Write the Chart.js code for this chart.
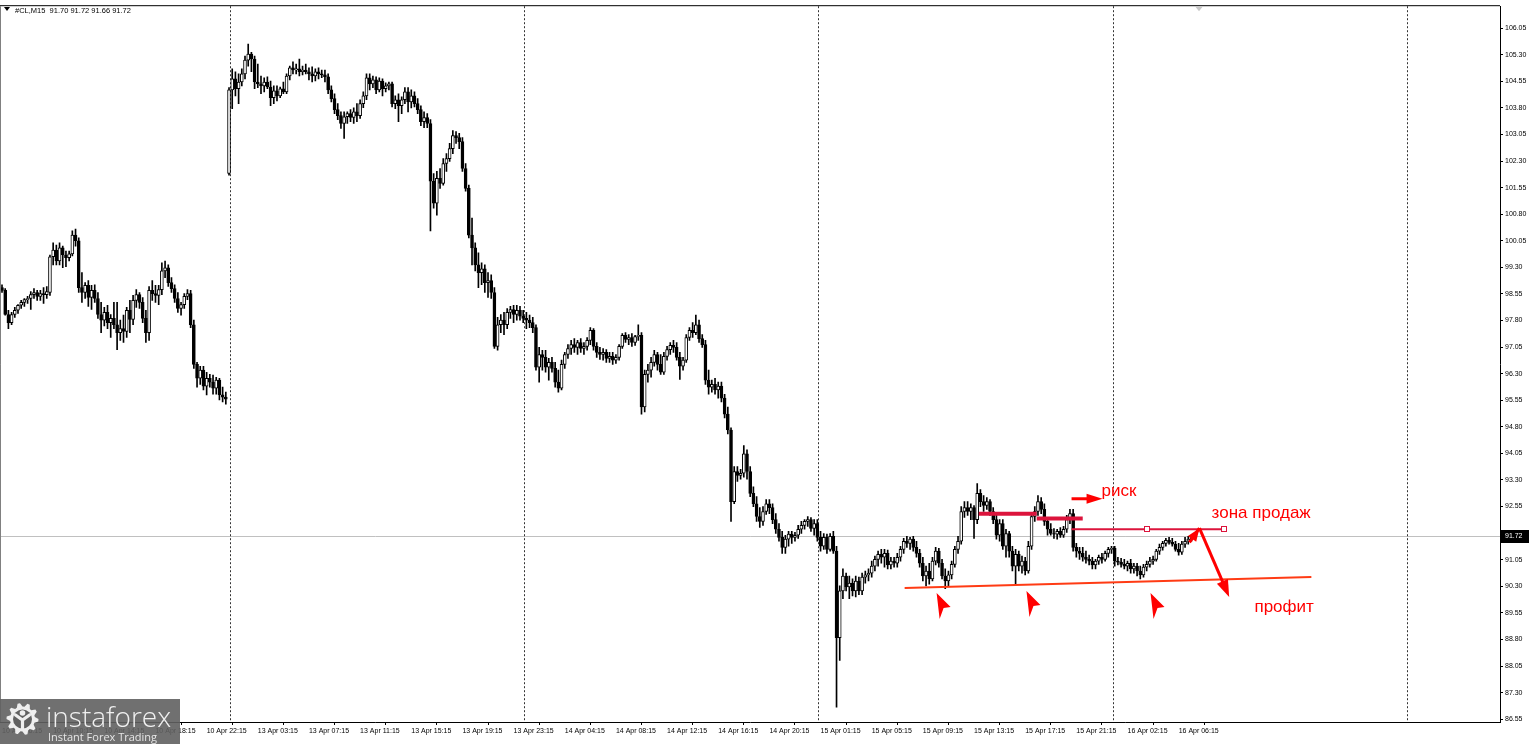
<!DOCTYPE html>
<html lang="ru">
<head>
    <meta charset="UTF-8">
    <title>#CL,M15</title>
    <style>
        html, body { margin: 0; padding: 0; background: #ffffff; }
        #wrap { width: 1529px; height: 744px; }
    </style>
    <script src="https://cdn.jsdelivr.net/npm/chart.js@4.4.0/dist/chart.umd.min.js"></script>
</head>
<body>
<div id="wrap"><canvas id="chart" width="1529" height="744"></canvas></div>
<script>
// M15 candles, bar 0 = 10 Apr 06:15
const opens = [
    98.73, 98.65, 97.97, 97.74, 97.97, 98.09, 98.23, 98.31, 98.39, 98.42,
    98.53, 98.59, 98.48, 98.56, 98.53, 98.59, 99.60, 99.79, 99.48, 99.85,
    99.65, 99.57, 99.68, 100.21, 100.05, 98.73, 98.59, 98.79, 98.45, 98.65,
    98.42, 97.97, 97.81, 98.03, 97.74, 97.86, 97.68, 97.46, 97.57, 97.49,
    98.09, 97.83, 98.37, 98.53, 98.31, 97.86, 97.46, 98.65, 98.56, 98.51,
    98.67, 99.20, 99.29, 98.87, 98.70, 98.42, 98.14, 98.25, 98.48, 98.56,
    97.68, 96.56, 96.17, 96.40, 95.95, 96.17, 96.06, 95.89, 96.12, 95.70,
    95.64, 101.95, 104.31, 104.62, 104.34, 104.53, 104.76, 105.15, 105.32, 105.18,
    104.53, 104.48, 104.42, 104.53, 104.39, 104.09, 104.28, 104.14, 104.34, 104.25,
    104.70, 104.93, 104.87, 104.90, 104.82, 104.87, 104.82, 104.76, 104.70, 104.82,
    104.76, 104.73, 104.68, 104.31, 104.06, 103.75, 103.58, 103.36, 103.55, 103.64,
    103.53, 103.69, 103.58, 103.92, 104.14, 104.65, 104.48, 104.59, 104.31, 104.56,
    104.34, 104.42, 104.48, 103.92, 104.03, 103.86, 104.03, 104.25, 103.97, 104.14,
    103.92, 103.75, 103.41, 103.53, 103.36, 101.73, 101.11, 101.81, 101.67, 102.23,
    102.37, 102.65, 103.02, 102.96, 102.85, 102.09, 101.53, 100.21, 99.85, 99.37,
    99.15, 99.26, 98.87, 98.93, 98.59, 97.07, 97.68, 97.81, 97.68, 98.03,
    98.11, 97.97, 98.09, 97.92, 97.86, 97.81, 97.74, 97.60, 96.48, 96.84,
    96.76, 96.48, 96.62, 96.45, 96.06, 95.89, 96.56, 96.84, 97.01, 97.12,
    97.04, 97.18, 97.01, 97.07, 97.24, 97.52, 97.07, 96.90, 96.84, 96.90,
    96.73, 96.79, 96.68, 96.76, 97.07, 97.38, 97.27, 97.32, 97.18, 97.35,
    97.38, 95.36, 96.28, 96.40, 96.62, 96.84, 96.56, 96.34, 96.79, 96.98,
    97.10, 97.04, 96.76, 96.51, 96.68, 97.32, 97.52, 97.46, 97.68, 97.29,
    97.12, 96.12, 95.92, 96.00, 95.84, 95.95, 95.61, 95.16, 94.71, 92.69,
    93.54, 93.43, 93.49, 94.04, 93.54, 92.92, 92.63, 92.27, 92.13, 92.41,
    92.63, 92.52, 92.18, 91.91, 91.68, 91.40, 91.63, 91.77, 91.68, 91.74,
    91.91, 92.02, 92.13, 92.18, 91.93, 92.07, 91.68, 91.43, 91.68, 91.34,
    91.71, 91.29, 88.85, 90.17, 90.59, 90.28, 90.39, 90.17, 90.45, 90.17,
    90.56, 90.62, 90.67, 90.87, 91.06, 91.20, 91.12, 91.23, 90.90, 91.01,
    90.95, 91.12, 91.34, 91.57, 91.51, 91.63, 91.40, 91.23, 90.95, 90.59,
    90.73, 90.51, 91.01, 91.29, 90.95, 90.59, 90.45, 90.62, 90.92, 91.34,
    91.57, 92.41, 92.52, 92.41, 92.52, 92.18, 92.92, 92.69, 92.58, 92.69,
    92.41, 92.18, 91.74, 92.07, 91.43, 91.79, 91.29, 90.87, 91.20, 90.87,
    91.01, 90.73, 91.43, 92.27, 92.41, 92.69, 92.47, 92.13, 91.91, 91.79,
    91.77, 91.85, 91.74, 91.91, 92.18, 92.35, 91.40, 91.29, 91.23, 91.12,
    91.06, 91.01, 90.90, 91.01, 91.12, 91.06, 91.23, 91.34, 91.37, 91.01,
    90.98, 90.92, 90.87, 90.95, 90.79, 90.87, 90.73, 90.62, 90.84, 90.92,
    91.01, 91.06, 91.29, 91.40, 91.51, 91.60, 91.54, 91.49, 91.34, 91.26,
    91.49, 91.57, 91.63, 91.70
];
const highs = [
    98.81, 98.70, 98.09, 98.03, 98.17, 98.25, 98.37, 98.42, 98.48, 98.62,
    98.70, 98.65, 98.65, 98.73, 98.76, 99.65, 99.99, 99.93, 99.99, 99.90,
    99.76, 99.76, 100.33, 100.38, 100.13, 99.15, 98.87, 98.93, 98.79, 98.81,
    98.59, 98.31, 98.17, 98.23, 97.97, 98.31, 98.31, 97.81, 97.95, 98.17,
    98.37, 98.51, 98.67, 98.59, 98.45, 98.09, 98.76, 98.93, 98.79, 98.79,
    99.43, 99.48, 99.37, 99.01, 98.81, 98.59, 98.31, 98.56, 98.67, 98.65,
    97.81, 96.62, 96.51, 96.51, 96.34, 96.28, 96.26, 96.20, 96.17, 95.92,
    95.78, 104.37, 104.90, 104.82, 104.76, 104.90, 105.26, 105.60, 105.37, 105.26,
    105.04, 104.70, 104.65, 104.68, 104.56, 104.42, 104.42, 104.39, 104.53, 104.76,
    104.98, 105.10, 105.04, 105.18, 104.98, 105.04, 104.93, 104.96, 104.90, 104.93,
    104.87, 104.87, 104.76, 104.42, 104.20, 103.92, 103.69, 103.69, 103.69, 103.75,
    103.80, 103.92, 104.03, 104.25, 104.76, 104.76, 104.70, 104.68, 104.65, 104.62,
    104.51, 104.53, 104.53, 104.14, 104.20, 104.11, 104.37, 104.37, 104.31, 104.25,
    104.06, 103.86, 103.69, 103.64, 103.47, 101.95, 102.01, 102.09, 102.37, 102.51,
    102.80, 103.16, 103.13, 103.08, 102.96, 102.23, 101.62, 100.69, 99.99, 99.71,
    99.43, 99.37, 99.15, 99.09, 98.73, 97.89, 97.97, 98.03, 98.14, 98.20,
    98.23, 98.23, 98.20, 98.09, 98.03, 97.95, 97.89, 97.68, 97.04, 96.96,
    96.96, 96.73, 96.76, 96.62, 96.40, 96.68, 96.90, 97.12, 97.24, 97.29,
    97.24, 97.29, 97.18, 97.32, 97.60, 97.57, 97.18, 97.04, 97.01, 96.98,
    96.90, 96.90, 96.84, 97.12, 97.43, 97.46, 97.40, 97.43, 97.38, 97.68,
    97.46, 96.40, 96.56, 96.76, 96.96, 96.90, 96.84, 96.90, 97.07, 97.18,
    97.24, 97.18, 96.90, 96.76, 97.40, 97.60, 97.74, 97.95, 97.81, 97.40,
    97.24, 96.40, 96.12, 96.17, 96.06, 96.06, 95.72, 95.36, 94.77, 93.68,
    93.68, 93.60, 94.27, 94.15, 93.68, 93.11, 92.83, 92.52, 92.55, 92.75,
    92.75, 92.63, 92.35, 92.07, 91.85, 91.74, 91.85, 91.85, 91.82, 92.02,
    92.13, 92.18, 92.27, 92.24, 92.18, 92.18, 91.85, 91.79, 91.77, 91.79,
    91.85, 91.43, 90.31, 90.79, 90.67, 90.59, 90.51, 90.59, 90.56, 90.67,
    90.73, 90.79, 91.01, 91.15, 91.29, 91.34, 91.34, 91.32, 91.12, 91.12,
    91.23, 91.43, 91.65, 91.71, 91.68, 91.71, 91.57, 91.34, 91.12, 90.87,
    90.95, 91.12, 91.40, 91.37, 91.06, 90.79, 90.73, 91.01, 91.43, 91.71,
    92.55, 92.69, 92.69, 92.63, 92.58, 93.20, 93.03, 92.86, 92.80, 92.75,
    92.52, 92.30, 92.18, 92.18, 91.91, 91.85, 91.43, 91.34, 91.29, 91.15,
    91.12, 91.57, 92.35, 92.55, 92.86, 92.80, 92.63, 92.24, 92.07, 91.93,
    91.91, 91.96, 91.99, 92.30, 92.47, 92.47, 91.51, 91.40, 91.40, 91.29,
    91.18, 91.12, 91.06, 91.18, 91.23, 91.29, 91.40, 91.43, 91.43, 91.12,
    91.09, 91.06, 91.01, 91.06, 90.95, 90.95, 90.87, 90.92, 91.01, 91.12,
    91.15, 91.34, 91.49, 91.57, 91.65, 91.68, 91.65, 91.57, 91.51, 91.57,
    91.68, 91.71, 91.74, 91.72
];
const lows = [
    98.59, 97.95, 97.57, 97.68, 97.89, 98.00, 98.14, 98.20, 98.28, 98.11,
    98.42, 98.37, 98.37, 98.28, 98.42, 98.51, 99.37, 99.37, 99.37, 99.29,
    99.32, 99.48, 99.62, 99.90, 98.59, 98.31, 98.42, 98.20, 98.11, 98.31,
    97.86, 97.46, 97.65, 97.57, 97.32, 97.57, 96.98, 97.24, 97.18, 97.32,
    97.46, 97.68, 98.17, 98.14, 97.74, 97.18, 97.24, 98.37, 98.31, 98.25,
    98.53, 99.01, 98.76, 98.59, 98.31, 98.03, 97.95, 98.14, 98.39, 97.60,
    96.45, 95.92, 96.00, 95.84, 95.70, 95.92, 95.72, 95.72, 95.56, 95.50,
    95.44, 101.90, 103.78, 104.14, 103.92, 104.42, 104.62, 104.98, 104.82, 104.34,
    104.37, 104.20, 104.25, 104.34, 103.86, 103.92, 104.00, 104.09, 104.20, 104.20,
    104.59, 104.76, 104.76, 104.70, 104.73, 104.76, 104.59, 104.53, 104.56, 104.62,
    104.65, 104.53, 104.20, 103.97, 103.64, 103.47, 103.22, 102.94, 103.36, 103.41,
    103.36, 103.41, 103.50, 103.81, 104.03, 104.31, 104.37, 104.20, 104.25, 104.14,
    104.25, 104.31, 103.83, 103.78, 103.41, 103.64, 103.92, 103.69, 103.80, 103.83,
    103.64, 103.30, 103.24, 103.24, 100.33, 100.97, 100.77, 101.53, 101.62, 102.01,
    102.29, 102.51, 102.80, 102.65, 102.01, 101.45, 100.13, 99.37, 99.20, 98.73,
    98.81, 98.59, 98.45, 98.42, 97.01, 96.96, 97.46, 97.40, 97.57, 97.86,
    97.74, 97.81, 97.81, 97.74, 97.57, 97.60, 97.46, 96.40, 96.06, 96.40,
    96.34, 96.12, 96.34, 95.92, 95.78, 95.84, 96.45, 96.73, 96.84, 96.90,
    96.84, 96.90, 96.84, 96.96, 97.12, 96.96, 96.76, 96.70, 96.68, 96.62,
    96.62, 96.56, 96.59, 96.68, 97.01, 97.18, 97.12, 97.07, 97.10, 97.24,
    95.16, 95.22, 96.06, 96.20, 96.51, 96.40, 96.28, 96.28, 96.68, 96.84,
    96.90, 96.68, 96.14, 96.40, 96.62, 97.24, 97.32, 97.40, 97.18, 97.04,
    96.00, 95.72, 95.78, 95.72, 95.61, 95.50, 95.05, 94.60, 92.13, 92.63,
    93.26, 93.32, 93.38, 93.32, 92.83, 92.55, 92.13, 91.96, 92.02, 92.33,
    92.35, 92.07, 91.79, 91.57, 91.23, 91.23, 91.43, 91.51, 91.57, 91.65,
    91.79, 91.91, 91.99, 91.85, 91.74, 91.57, 91.29, 91.34, 91.23, 91.29,
    91.23, 86.89, 88.21, 89.95, 90.17, 89.95, 90.03, 90.00, 90.06, 90.06,
    90.39, 90.45, 90.56, 90.73, 90.87, 90.95, 90.84, 90.79, 90.79, 90.84,
    90.84, 91.01, 91.23, 91.40, 91.34, 91.29, 91.12, 90.84, 90.45, 90.31,
    90.36, 90.45, 90.90, 90.84, 90.51, 90.23, 90.31, 90.51, 90.84, 91.23,
    91.49, 92.24, 92.30, 92.18, 91.65, 92.07, 92.55, 92.41, 92.47, 92.30,
    92.07, 91.63, 91.57, 91.34, 91.12, 91.12, 90.73, 90.36, 90.73, 90.67,
    90.62, 90.67, 91.34, 92.13, 92.30, 92.35, 92.02, 91.74, 91.74, 91.65,
    91.63, 91.68, 91.68, 91.82, 92.07, 91.29, 91.12, 91.06, 91.01, 90.95,
    90.90, 90.79, 90.79, 90.92, 90.95, 91.01, 91.12, 91.23, 90.87, 90.90,
    90.84, 90.79, 90.73, 90.67, 90.67, 90.59, 90.51, 90.56, 90.73, 90.84,
    90.92, 91.01, 91.20, 91.32, 91.43, 91.49, 91.43, 91.29, 91.18, 91.20,
    91.40, 91.49, 91.57, 91.66
];
const closes = [
    98.65, 97.97, 97.74, 97.97, 98.09, 98.23, 98.31, 98.39, 98.42, 98.53,
    98.59, 98.48, 98.56, 98.53, 98.62, 99.60, 99.79, 99.48, 99.85, 99.65,
    99.57, 99.68, 100.21, 100.05, 98.73, 98.59, 98.79, 98.45, 98.65, 98.42,
    97.97, 97.81, 98.03, 97.74, 97.86, 97.68, 97.46, 97.57, 97.49, 98.09,
    97.83, 98.37, 98.53, 98.31, 97.86, 97.46, 98.65, 98.56, 98.51, 98.67,
    99.20, 99.29, 98.87, 98.70, 98.42, 98.14, 98.25, 98.48, 98.56, 97.68,
    96.56, 96.17, 96.40, 95.95, 96.17, 96.06, 95.89, 96.12, 95.70, 95.64,
    95.58, 104.31, 104.62, 104.34, 104.53, 104.76, 105.15, 105.32, 105.18, 104.53,
    104.48, 104.42, 104.53, 104.39, 104.09, 104.28, 104.14, 104.34, 104.25, 104.70,
    104.93, 104.87, 104.90, 104.82, 104.87, 104.82, 104.76, 104.70, 104.82, 104.76,
    104.73, 104.68, 104.31, 104.06, 103.75, 103.58, 103.36, 103.55, 103.64, 103.53,
    103.69, 103.58, 103.92, 104.14, 104.65, 104.48, 104.59, 104.31, 104.56, 104.34,
    104.42, 104.48, 103.92, 104.03, 103.86, 104.03, 104.25, 103.97, 104.14, 103.92,
    103.75, 103.41, 103.53, 103.36, 101.73, 101.11, 101.81, 101.67, 102.23, 102.37,
    102.65, 103.02, 102.96, 102.85, 102.09, 101.53, 100.21, 99.85, 99.37, 99.15,
    99.26, 98.87, 98.93, 98.59, 97.07, 97.68, 97.81, 97.68, 98.03, 98.11,
    97.97, 98.09, 97.92, 97.86, 97.81, 97.74, 97.60, 96.48, 96.84, 96.76,
    96.48, 96.62, 96.45, 96.06, 95.89, 96.56, 96.84, 97.01, 97.12, 97.04,
    97.18, 97.01, 97.07, 97.24, 97.52, 97.07, 96.90, 96.84, 96.90, 96.73,
    96.79, 96.68, 96.76, 97.07, 97.38, 97.27, 97.32, 97.18, 97.35, 97.38,
    95.36, 96.28, 96.40, 96.62, 96.84, 96.56, 96.34, 96.79, 96.98, 97.10,
    97.04, 96.76, 96.51, 96.68, 97.32, 97.52, 97.46, 97.68, 97.29, 97.12,
    96.12, 95.92, 96.00, 95.84, 95.95, 95.61, 95.16, 94.71, 92.69, 93.54,
    93.43, 93.49, 94.04, 93.54, 92.92, 92.63, 92.27, 92.13, 92.41, 92.63,
    92.52, 92.18, 91.91, 91.68, 91.40, 91.63, 91.77, 91.68, 91.74, 91.91,
    92.02, 92.13, 92.18, 91.93, 92.07, 91.68, 91.43, 91.68, 91.34, 91.71,
    91.29, 88.85, 90.17, 90.59, 90.28, 90.39, 90.17, 90.45, 90.17, 90.56,
    90.62, 90.67, 90.87, 91.06, 91.20, 91.12, 91.23, 90.90, 91.01, 90.95,
    91.12, 91.34, 91.57, 91.51, 91.63, 91.40, 91.23, 90.95, 90.59, 90.73,
    90.51, 91.01, 91.29, 90.95, 90.59, 90.45, 90.62, 90.92, 91.34, 91.57,
    92.41, 92.52, 92.41, 92.52, 92.18, 92.92, 92.69, 92.58, 92.69, 92.41,
    92.18, 91.74, 92.07, 91.43, 91.79, 91.29, 90.87, 91.20, 90.87, 91.01,
    90.73, 91.43, 92.27, 92.41, 92.69, 92.47, 92.13, 91.91, 91.79, 91.77,
    91.85, 91.74, 91.91, 92.18, 92.35, 91.40, 91.29, 91.23, 91.12, 91.06,
    91.01, 90.90, 91.01, 91.12, 91.06, 91.23, 91.34, 91.37, 91.01, 90.98,
    90.92, 90.87, 90.95, 90.79, 90.87, 90.73, 90.62, 90.84, 90.92, 91.01,
    91.06, 91.29, 91.40, 91.51, 91.60, 91.54, 91.49, 91.34, 91.26, 91.49,
    91.57, 91.63, 91.70, 91.72
];

const yTicks = [86.55, 87.30, 88.05, 88.80, 89.55, 90.30, 91.05, 91.80, 92.55, 93.30,
    94.05, 94.80, 95.55, 96.30, 97.05, 97.80, 98.55, 99.30, 100.05, 100.80,
    101.55, 102.30, 103.05, 103.80, 104.55, 105.30, 106.05];
const xTickBars = [0, 16, 32, 48, 64, 80, 96, 112, 128, 144, 160, 176, 192, 208, 224,
    240, 256, 272, 288, 304, 320, 336, 352, 368];
const xTickLabels = ['10 Apr 06:15', '10 Apr 10:15', '10 Apr 14:15', '10 Apr 18:15', '10 Apr 22:15',
    '13 Apr 03:15', '13 Apr 07:15', '13 Apr 11:15', '13 Apr 15:15', '13 Apr 19:15', '13 Apr 23:15',
    '14 Apr 04:15', '14 Apr 08:15', '14 Apr 12:15', '14 Apr 16:15', '14 Apr 20:15',
    '15 Apr 01:15', '15 Apr 05:15', '15 Apr 09:15', '15 Apr 13:15', '15 Apr 17:15', '15 Apr 21:15',
    '16 Apr 02:15', '16 Apr 06:15'];
const daySeparators = [71, 163, 255, 347, 439];
const lastPrice = 91.72;
const totalSlots = 469;

// hand drawn objects, anchored in bar / price units
const supportLine = { b1: 282.3, p1: 90.25, b2: 409.5, p2: 90.56 };
const riskLevels = [
    { b1: 305.5, b2: 323.6, p: 92.35 },
    { b1: 323.6, b2: 338.0, p: 92.21 }
];
const sellZone = { b1: 334.5, b2: 382.3, p: 91.91, handles: [358.0, 382.3] };
const riskArrow = { b1: 334.5, b2: 344.2, p: 92.77 };
const sellArrow = { fromB: 371.4, fromP: 91.54, apexB: 374.5, apexP: 91.94, toB: 383.8, toP: 90.00 };
const pointers = [ { b: 292.3, p: 90.11 }, { b: 320.4, p: 90.17 }, { b: 359.2, p: 90.11 } ];
const notes = [
    { text: 'риск', b: 343.9, p: 92.97 },
    { text: 'зона продаж', b: 378.3, p: 92.35 },
    { text: 'профит', b: 391.7, p: 89.72 }
];

const wickData = lows.map((l, i) => ({ x: i, y: [l, highs[i]] }));
const bodyData = opens.map((o, i) => ({ x: i, y: [Math.min(o, closes[i]), Math.max(o, closes[i])] }));
const bodyFill = opens.map((o, i) => closes[i] >= o ? '#ffffff' : '#000000');

const axisFont = { family: 'Liberation Sans', size: 7 };

function arrowHead(ctx, x1, y1, x2, y2, len, half) {
    const a = Math.atan2(y2 - y1, x2 - x1);
    const bx = x2 - len * Math.cos(a), by = y2 - len * Math.sin(a);
    ctx.beginPath();
    ctx.moveTo(x2, y2);
    ctx.lineTo(bx + half * Math.sin(a), by - half * Math.cos(a));
    ctx.lineTo(bx - half * Math.sin(a), by + half * Math.cos(a));
    ctx.closePath();
    ctx.fill();
}

// MT4 style arrow marker, tip at top left
function drawPointer(ctx, px, py) {
    ctx.beginPath();
    ctx.moveTo(px, py);
    ctx.lineTo(px + 14, py + 14);
    ctx.lineTo(px + 7, py + 15);
    ctx.lineTo(px + 3, py + 26);
    ctx.closePath();
    ctx.fill();
}

function drawLogo(ctx) {
    ctx.save();
    ctx.fillStyle = 'rgba(96,96,96,0.9)';
    ctx.fillRect(0, 699, 180, 45);
    // gear
    const cx = 22.5, cy = 719;
    ctx.fillStyle = '#eeeeee';
    ctx.beginPath();
    for (let k = 0; k < 40; k++) {
        const ang = k * Math.PI * 2 / 40;
        const r = Math.floor(k / 2) % 2 === 0 ? 16 : 12.5;
        const px = cx + r * Math.cos(ang), py = cy + r * Math.sin(ang);
        if (k === 0) ctx.moveTo(px, py); else ctx.lineTo(px, py);
    }
    ctx.closePath();
    ctx.fill();
    ctx.fillStyle = '#606060';
    ctx.beginPath(); ctx.arc(cx, cy, 9.5, 0, Math.PI * 2); ctx.fill();
    ctx.fillStyle = '#eeeeee';
    ctx.beginPath(); ctx.arc(cx, cy - 6, 2.8, 0, Math.PI * 2); ctx.fill();
    ctx.strokeStyle = '#eeeeee'; ctx.lineWidth = 3.2; ctx.lineCap = 'round';
    ctx.beginPath();
    ctx.moveTo(cx - 7, cy - 4); ctx.lineTo(cx, cy + 1); ctx.lineTo(cx + 7, cy - 4);
    ctx.moveTo(cx, cy + 1); ctx.lineTo(cx, cy + 10);
    ctx.stroke();
    // name
    ctx.fillStyle = '#f0f0f0';
    ctx.textBaseline = 'alphabetic';
    ctx.font = '300 28px "Open Sans"';
    ctx.fillText('instaforex', 46, 727);
    ctx.font = '11px "Open Sans"';
    ctx.fillStyle = '#e6e6e6';
    ctx.fillText('Instant Forex Trading', 48, 741);
    ctx.restore();
}

const mt4Plugin = {
    id: 'mt4',
    beforeDatasetsDraw(chart) {
        const { ctx, chartArea: a, scales: { x, y } } = chart;
        ctx.save();
        const py = Math.round(y.getPixelForValue(lastPrice)) + 0.5;
        ctx.strokeStyle = '#c0c0c0';
        ctx.lineWidth = 1;
        ctx.beginPath(); ctx.moveTo(a.left, py); ctx.lineTo(a.right, py); ctx.stroke();
        ctx.strokeStyle = '#333333';
        ctx.setLineDash([2, 2]);
        daySeparators.forEach(b => {
            const px = Math.round(x.getPixelForValue(b)) + 1.5;
            ctx.beginPath(); ctx.moveTo(px, a.top); ctx.lineTo(px, a.bottom); ctx.stroke();
        });
        ctx.restore();
    },
    afterDatasetsDraw(chart) {
        const { ctx, scales: { x, y } } = chart;
        const X = b => x.getPixelForValue(b), Y = p => y.getPixelForValue(p);
        ctx.save();
        // support trend line
        ctx.strokeStyle = '#ff3b14';
        ctx.lineWidth = 2;
        ctx.beginPath();
        ctx.moveTo(X(supportLine.b1), Y(supportLine.p1));
        ctx.lineTo(X(supportLine.b2), Y(supportLine.p2));
        ctx.stroke();
        // risk levels
        ctx.strokeStyle = '#dc143c';
        ctx.lineWidth = 4;
        riskLevels.forEach(r => {
            ctx.beginPath(); ctx.moveTo(X(r.b1), Y(r.p)); ctx.lineTo(X(r.b2), Y(r.p)); ctx.stroke();
        });
        // sell zone
        ctx.lineWidth = 2;
        ctx.beginPath(); ctx.moveTo(X(sellZone.b1), Y(sellZone.p)); ctx.lineTo(X(sellZone.b2), Y(sellZone.p)); ctx.stroke();
        ctx.fillStyle = '#ffffff';
        ctx.lineWidth = 1;
        sellZone.handles.forEach(b => {
            const hx = Math.round(X(b)), hy = Math.round(Y(sellZone.p));
            ctx.fillRect(hx - 2, hy - 2, 5, 5);
            ctx.strokeRect(hx - 2.5, hy - 2.5, 5, 5);
        });
        // red arrows
        ctx.strokeStyle = '#ff0000';
        ctx.fillStyle = '#ff0000';
        ctx.lineWidth = 3;
        const ry = Y(riskArrow.p);
        ctx.beginPath(); ctx.moveTo(X(riskArrow.b1), ry); ctx.lineTo(X(riskArrow.b2) - 10, ry); ctx.stroke();
        arrowHead(ctx, X(riskArrow.b1), ry, X(riskArrow.b2), ry, 16, 5);

        const ax = X(sellArrow.apexB), ay = Y(sellArrow.apexP);
        const tx = X(sellArrow.toB), ty = Y(sellArrow.toP);
        const fx = X(sellArrow.fromB), fy = Y(sellArrow.fromP);
        ctx.beginPath(); ctx.moveTo(fx, fy); ctx.lineTo(ax, ay); ctx.stroke();
        arrowHead(ctx, fx - 4, fy + 6, ax, ay, 13, 5);
        const ang = Math.atan2(ty - ay, tx - ax);
        ctx.beginPath(); ctx.moveTo(ax, ay); ctx.lineTo(tx - 12 * Math.cos(ang), ty - 12 * Math.sin(ang)); ctx.stroke();
        arrowHead(ctx, ax, ay, tx, ty, 17, 6);

        pointers.forEach(pt => drawPointer(ctx, X(pt.b), Y(pt.p)));

        // labels
        ctx.font = '17px "Liberation Sans"';
        ctx.textBaseline = 'middle';
        ctx.textAlign = 'left';
        notes.forEach(n => ctx.fillText(n.text, X(n.b), Y(n.p)));
        ctx.restore();
    },
    afterDraw(chart) {
        const { ctx, chartArea: a, scales: { y } } = chart;
        ctx.save();
        // frame
        ctx.strokeStyle = '#000000';
        ctx.lineWidth = 1;
        ctx.beginPath(); ctx.moveTo(0, a.top - 0.5); ctx.lineTo(a.right, a.top - 0.5); ctx.stroke();
        ctx.strokeStyle = '#808080';
        ctx.beginPath(); ctx.moveTo(0.5, a.top); ctx.lineTo(0.5, a.bottom); ctx.stroke();
        // last price box
        const py = Math.round(y.getPixelForValue(lastPrice));
        ctx.fillStyle = '#000000';
        ctx.fillRect(a.right + 1, py - 6, 28, 13);
        ctx.fillStyle = '#ffffff';
        ctx.font = '7px "Liberation Sans"';
        ctx.textBaseline = 'middle';
        ctx.fillText(lastPrice.toFixed(2), a.right + 5, py + 0.5);
        // shift marker
        ctx.fillStyle = '#c8c8c8';
        ctx.beginPath(); ctx.moveTo(1195, a.top); ctx.lineTo(1203, a.top); ctx.lineTo(1199, a.top + 5); ctx.closePath(); ctx.fill();
        // title
        ctx.fillStyle = '#000000';
        ctx.beginPath(); ctx.moveTo(4, 7); ctx.lineTo(10, 7); ctx.lineTo(7, 11); ctx.closePath(); ctx.fill();
        ctx.font = '7.5px "Liberation Sans"';
        ctx.textBaseline = 'alphabetic';
        ctx.fillText('#CL,M15  ' + [opens[opens.length - 1], highs[highs.length - 1], lows[lows.length - 1], closes[closes.length - 1]].map(v => v.toFixed(2)).join(' '), 15, 13);
        ctx.restore();
        drawLogo(ctx);
    }
};

new Chart(document.getElementById('chart'), {
    type: 'bar',
    data: {
        datasets: [
            {
                label: 'body',
                data: bodyData,
                backgroundColor: bodyFill,
                borderColor: '#000000',
                borderWidth: 1,
                borderSkipped: false,
                barThickness: 3,
                grouped: false,
                order: 0
            },
            {
                label: 'wick',
                data: wickData,
                backgroundColor: '#000000',
                borderWidth: 0,
                barThickness: 1,
                grouped: false,
                order: 1
            }
        ]
    },
    options: {
        responsive: false,
        animation: false,
        devicePixelRatio: 1,
        layout: { padding: { top: 2, left: 0, right: 0, bottom: 0 } },
        plugins: { legend: { display: false }, tooltip: { enabled: false } },
        scales: {
            x: {
                type: 'linear',
                min: -0.5,
                max: totalSlots - 0.5,
                offset: false,
                grid: { drawOnChartArea: false, drawTicks: true, tickLength: 3, color: '#000000' },
                border: { display: true, color: '#000000' },
                afterBuildTicks: s => { s.ticks = xTickBars.map(v => ({ value: v })); },
                afterFit: s => { s.height = 22; },
                ticks: {
                    autoSkip: false, maxRotation: 0, minRotation: 0, align: 'start', padding: 2,
                    color: '#000000', font: axisFont,
                    callback: v => { const k = xTickBars.indexOf(v); return k >= 0 ? xTickLabels[k] : ''; }
                }
            },
            y: {
                position: 'right',
                min: 86.47,
                max: 106.67,
                grid: { drawOnChartArea: false, drawTicks: true, tickLength: 3, color: '#000000' },
                border: { display: true, color: '#000000' },
                afterBuildTicks: s => { s.ticks = yTicks.map(v => ({ value: v })); },
                afterFit: s => { s.width = 29; },
                ticks: { color: '#000000', font: axisFont, padding: 2, callback: v => v.toFixed(2) }
            }
        }
    },
    plugins: [mt4Plugin]
});
</script>
</body>
</html>
